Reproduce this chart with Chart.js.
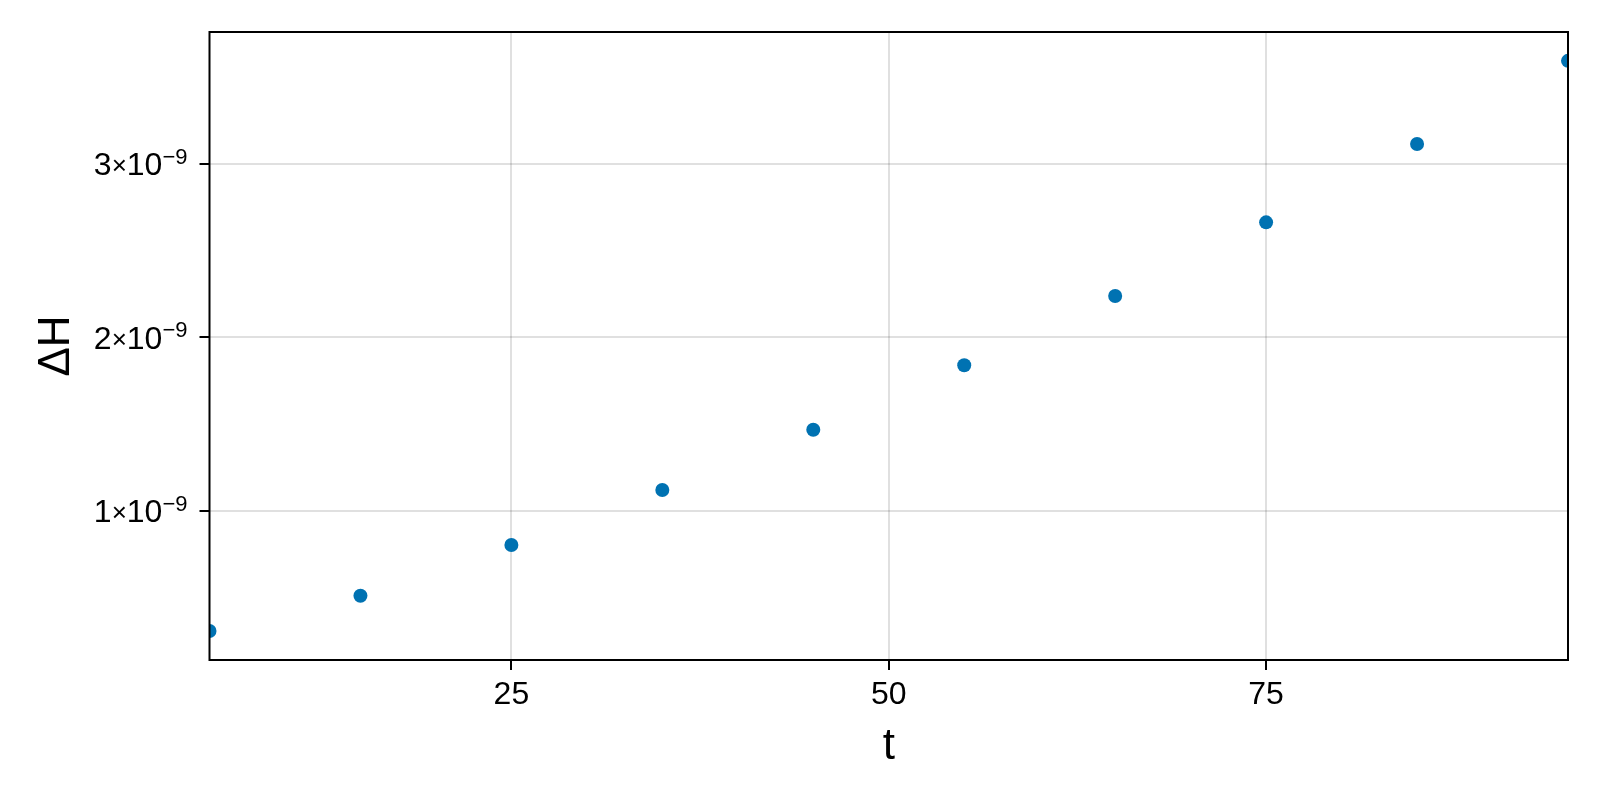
<!DOCTYPE html>
<html>
<head>
<meta charset="utf-8">
<script src="https://cdn.jsdelivr.net/npm/chart.js@4.4.1/dist/chart.umd.min.js"></script>
<style>
  html, body { margin: 0; padding: 0; background: #fff; }
  #wrap { width: 1600px; height: 800px; position: relative; }
</style>
</head>
<body>
<div id="wrap"><canvas id="chart"></canvas></div>
<script>
// values
const tValues = [5, 15, 25, 35, 45, 55, 65, 75, 85, 95];
const deltaH = [0.309e-9, 0.512e-9, 0.804e-9, 1.121e-9, 1.468e-9, 1.839e-9, 2.238e-9, 2.662e-9, 3.113e-9, 3.592e-9];
const xTicks = [25, 50, 75];
const yTicks = [1e-9, 2e-9, 3e-9];
const yMantissa = ['1', '2', '3'];
const yExponent = '−9';

const FONT = "'Liberation Sans', Arial, Helvetica, sans-serif";

// black frame round the plot area
const frame = {
    id: 'frame',
    afterDraw(chart) {
        const { ctx, chartArea: a } = chart;
        ctx.save();
        ctx.strokeStyle = '#000';
        ctx.lineWidth = 2;
        ctx.strokeRect(a.left, a.top, a.right - a.left, a.bottom - a.top);
        ctx.restore();
    }
};

// y tick labels as "3×10⁻⁹" with a real raised exponent
const sciLabels = {
    id: 'sciLabels',
    afterDraw(chart) {
        const { ctx } = chart;
        const y = chart.scales.y;
        const right = chart.chartArea.left - 10 - 12;
        ctx.save();
        ctx.fillStyle = '#000';
        ctx.textBaseline = 'alphabetic';
        ctx.textAlign = 'left';
        yTicks.forEach((v, i) => {
            const py = y.getPixelForValue(v);
            const base = py + 11.5;
            const parts = [
                { s: yMantissa[i], size: 32, dy: 0 },
                { s: '×', size: 26, dy: -1 },
                { s: '10', size: 32, dy: 0 },
                { s: yExponent, size: 22, dy: -11.5 }
            ];
            parts.forEach(p => {
                ctx.font = p.size + 'px ' + FONT;
                p.w = ctx.measureText(p.s).width;
            });
            let x = right - parts.reduce((a, p) => a + p.w, 0);
            parts.forEach(p => {
                ctx.font = p.size + 'px ' + FONT;
                ctx.fillText(p.s, x, base + p.dy);
                x += p.w;
            });
        });
        ctx.restore();
    }
};

const ctx = document.getElementById('chart').getContext('2d');
new Chart(ctx, {
    type: 'scatter',
    data: {
        datasets: [{
            data: tValues.map((t, i) => ({ x: t, y: deltaH[i] })),
            backgroundColor: '#0072b2',
            borderWidth: 0,
            pointRadius: 7,
            pointHoverRadius: 7,
            clip: 0
        }]
    },
    options: {
        responsive: true,
        maintainAspectRatio: false,
        animation: false,
        events: [],
        layout: { padding: { left: 0, right: 32, top: 32, bottom: 0 } },
        plugins: {
            legend: { display: false },
            tooltip: { enabled: false }
        },
        scales: {
            x: {
                type: 'linear',
                min: 5,
                max: 95,
                afterBuildTicks: s => { s.ticks = xTicks.map(v => ({ value: v })); },
                afterFit: s => { s.height = 140; },
                border: { display: false },
                grid: {
                    color: 'rgba(0,0,0,0.12)',
                    lineWidth: 2,
                    drawTicks: true,
                    tickLength: 10,
                    tickColor: '#000',
                    tickWidth: 2
                },
                ticks: {
                    color: '#000',
                    font: { family: FONT, size: 32 },
                    padding: 6,
                    maxRotation: 0,
                    callback: v => String(v)
                },
                title: {
                    display: true,
                    text: 't',
                    color: '#000',
                    font: { family: FONT, size: 44 },
                    padding: { top: 0, bottom: 27 }
                }
            },
            y: {
                type: 'linear',
                min: 0.142e-9,
                max: 3.758e-9,
                afterBuildTicks: s => { s.ticks = yTicks.map(v => ({ value: v })); },
                afterFit: s => { s.width = 209.5; },
                border: { display: false },
                grid: {
                    color: 'rgba(0,0,0,0.12)',
                    lineWidth: 2,
                    drawTicks: true,
                    tickLength: 10,
                    tickColor: '#000',
                    tickWidth: 2
                },
                ticks: { display: false },
                title: {
                    display: true,
                    text: 'ΔH',
                    color: '#000',
                    font: { family: FONT, size: 44 },
                    padding: { top: 30, bottom: 0 }
                }
            }
        }
    },
    plugins: [frame, sciLabels]
});
</script>
</body>
</html>
